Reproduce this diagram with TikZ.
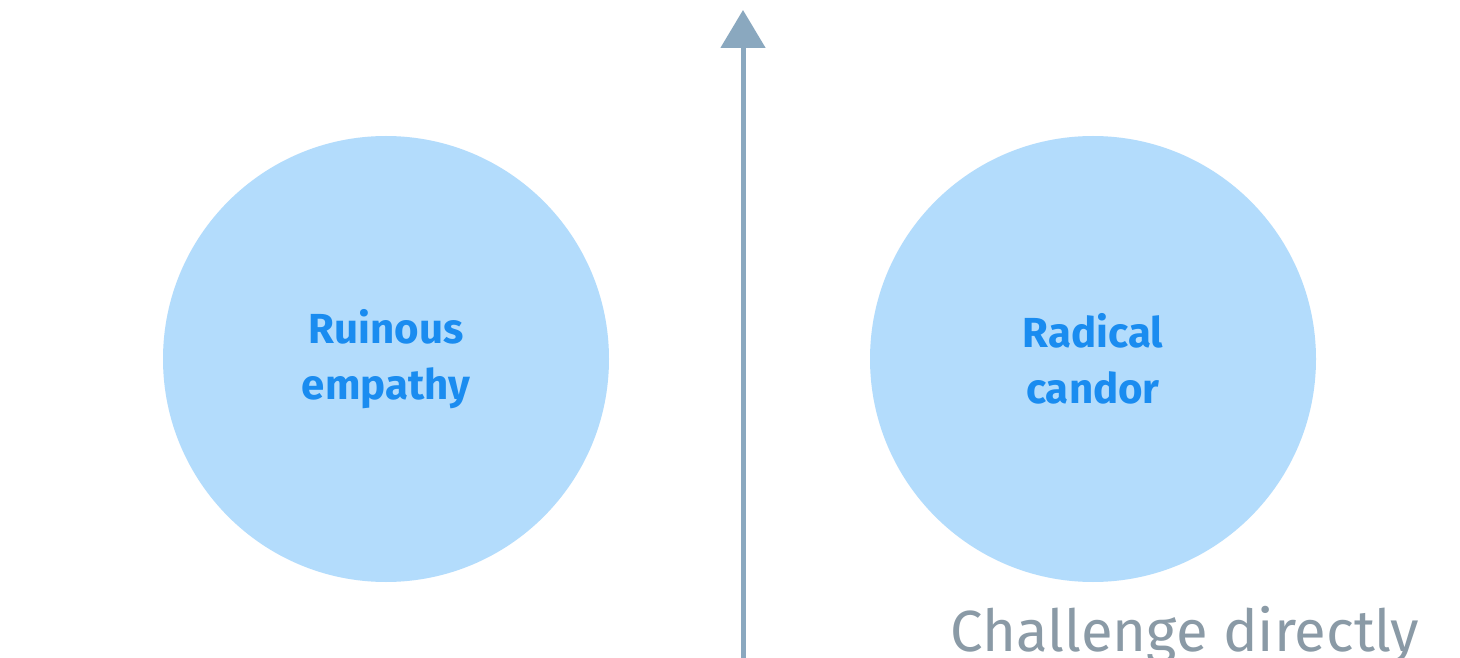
\documentclass[tikz,border=0pt]{standalone}
\usepackage{fontspec}
\setmainfont{Fira Sans}
\usetikzlibrary{arrows.meta}
\definecolor{circ}{HTML}{B3DCFC}
\definecolor{txt}{HTML}{1A8CF0}
\definecolor{axis}{HTML}{8AA8BF}
\definecolor{lab}{HTML}{8A9AA6}
\tikzset{quad/.style={circle,fill=circ,minimum size=446pt,inner sep=0pt,align=center,text=txt,font=\fontsize{42}{56}\selectfont\bfseries}}
\begin{document}
\begin{tikzpicture}[x=1pt,y=1pt]
\useasboundingbox (0,0) rectangle (1460,657);
\clip (0,0) rectangle (1460,657);
\fill[white] (0,0) rectangle (1460,657);
\node[quad] (re) at (386,298) {Ruinous\\empathy};
\node[quad] (rc) at (1093,298) {Radical\\candor};
\coordinate (b) at (743,-10);
\coordinate (t) at (743,647);
\draw[axis,line width=5pt,-{Triangle[width=44pt,length=38pt]}] (b) -- (t);
\node[text=lab,font=\fontsize{58}{64}\selectfont,anchor=base] (cd) at (1185,6) {Challenge directly};
\end{tikzpicture}
\end{document}
